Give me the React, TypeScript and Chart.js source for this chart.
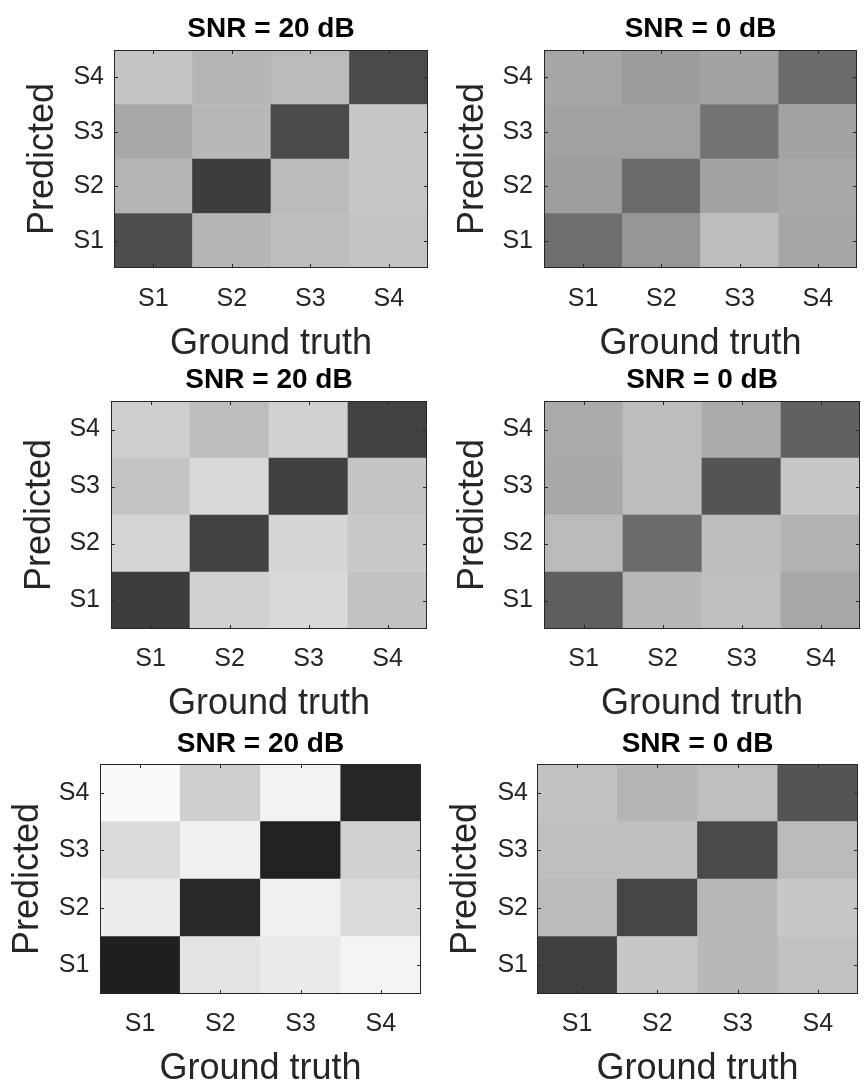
import React, { useEffect, useRef } from "react";
import { Chart, registerables } from "chart.js";

Chart.register(...registerables);

// ---------- data ----------
const groundTruth = ["S1", "S2", "S3", "S4"];
const predicted = ["S1", "S2", "S3", "S4"];
const xAxisLabel = "Ground truth";
const yAxisLabel = "Predicted";
const titles = ["SNR = 20 dB", "SNR = 0 dB", "SNR = 20 dB", "SNR = 0 dB", "SNR = 20 dB", "SNR = 0 dB"];

// each matrix: rows = predicted S1..S4, columns = ground truth S1..S4 (normalised score, 0 = white, 1 = black)
const setA_snr20 = [
  [0.70, 0.29, 0.26, 0.23],
  [0.29, 0.76, 0.27, 0.22],
  [0.34, 0.28, 0.71, 0.22],
  [0.23, 0.29, 0.27, 0.71],
];
const setA_snr0 = [
  [0.57, 0.41, 0.26, 0.35],
  [0.38, 0.58, 0.36, 0.34],
  [0.37, 0.37, 0.55, 0.36],
  [0.35, 0.39, 0.36, 0.58],
];
const setB_snr20 = [
  [0.76, 0.18, 0.15, 0.24],
  [0.17, 0.74, 0.16, 0.21],
  [0.23, 0.15, 0.75, 0.23],
  [0.19, 0.26, 0.18, 0.74],
];
const setB_snr0 = [
  [0.63, 0.28, 0.25, 0.34],
  [0.27, 0.58, 0.26, 0.30],
  [0.34, 0.26, 0.67, 0.22],
  [0.33, 0.26, 0.33, 0.62],
];
const setC_snr20 = [
  [0.88, 0.11, 0.08, 0.04],
  [0.07, 0.84, 0.06, 0.14],
  [0.14, 0.06, 0.87, 0.18],
  [0.02, 0.19, 0.05, 0.85],
];
const setC_snr0 = [
  [0.75, 0.22, 0.28, 0.24],
  [0.27, 0.73, 0.28, 0.22],
  [0.25, 0.25, 0.71, 0.27],
  [0.24, 0.29, 0.25, 0.67],
];

const matrices = [setA_snr20, setA_snr0, setB_snr20, setB_snr0, setC_snr20, setC_snr0];

// ---------- layout (page pixels) ----------
type Box = {
  cx: number; cy: number; cw: number; ch: number;
  px0: number; py0: number; px1: number; py1: number;
  titlePad: number; xTickPad: number; yTickPad: number; xTitlePad: number; yTitlePad: number;
};

const boxes: Box[] = [
  { cx: 0, cy: 0, cw: 433, ch: 360, px0: 114, py0: 50, px1: 428, py1: 268, titlePad: 14.8, xTickPad: 18.7, yTickPad: 10, xTitlePad: -1.7, yTitlePad: 25.2 },
  { cx: 433, cy: 0, cw: 433, ch: 360, px0: 544, py0: 50, px1: 857, py1: 268, titlePad: 14.8, xTickPad: 18.7, yTickPad: 11, xTitlePad: -1.7, yTitlePad: 22.2 },
  { cx: 0, cy: 360, cw: 433, ch: 360, px0: 111, py0: 401, px1: 427, py1: 629, titlePad: 5.8, xTickPad: 18, yTickPad: 11, xTitlePad: -1.7, yTitlePad: 22.0 },
  { cx: 433, cy: 360, cw: 433, ch: 360, px0: 544, py0: 401, px1: 860, py1: 629, titlePad: 5.8, xTickPad: 18, yTickPad: 11, xTitlePad: -1.7, yTitlePad: 22.0 },
  { cx: 0, cy: 720, cw: 433, ch: 368, px0: 100, py0: 764, px1: 421, py1: 994, titlePad: 10.6, xTickPad: 18, yTickPad: 10.7, xTitlePad: 1.3, yTitlePad: 10.4 },
  { cx: 433, cy: 720, cw: 433, ch: 368, px0: 537, py0: 764, px1: 858, py1: 994, titlePad: 10.6, xTickPad: 18, yTickPad: 9, xTitlePad: 1.3, yTitlePad: 15.4 },
];

const FONT = "'Liberation Sans', Arial, Helvetica, sans-serif";
const AXIS_COLOR = "#262626";
const TICK_SIZE = 25;
const LABEL_SIZE = 36;
const TITLE_SIZE = 28;

function shade(v: number): string {
  const g = Math.max(0, Math.min(255, Math.round(255 * (1 - v))));
  return `rgb(${g},${g},${g})`;
}

const framePlugin = {
  id: "matlabFrame",
  afterDraw(chart: any) {
    const { ctx, chartArea } = chart;
    const { left, top, right, bottom } = chartArea;
    const xs = chart.scales.x;
    const ys = chart.scales.y;
    const tl = 4;
    ctx.save();
    ctx.strokeStyle = AXIS_COLOR;
    ctx.lineWidth = 1;
    ctx.beginPath();
    for (let i = 0; i < xs.ticks.length; i++) {
      const px = Math.round(xs.getPixelForTick(i)) + 0.5;
      ctx.moveTo(px, bottom);
      ctx.lineTo(px, bottom - tl);
      ctx.moveTo(px, top);
      ctx.lineTo(px, top + tl);
    }
    for (let i = 0; i < ys.ticks.length; i++) {
      const py = Math.round(ys.getPixelForTick(i)) + 0.5;
      ctx.moveTo(left, py);
      ctx.lineTo(left + tl, py);
      ctx.moveTo(right, py);
      ctx.lineTo(right - tl, py);
    }
    ctx.stroke();
    ctx.strokeRect(left + 0.5, top + 0.5, right - left - 1, bottom - top - 1);
    ctx.restore();
  },
};

function Heatmap({ matrix, title, box }: { matrix: number[][]; title: string; box: Box }) {
  const ref = useRef<HTMLCanvasElement | null>(null);
  useEffect(() => {
    if (!ref.current) return;
    const yW = box.px0 - box.cx;
    const rightPad = box.cx + box.cw - box.px1;
    const topH = box.py0 - box.cy;
    const bottomH = box.cy + box.ch - box.py1;
    const datasets = predicted.map((p, r) => ({
      label: "Predicted " + p,
      data: groundTruth.map(() => 1),
      backgroundColor: matrix[r].map(shade),
      borderWidth: 0,
      barPercentage: 1,
      categoryPercentage: 1,
      xAxisID: "x",
      yAxisID: "y",
    }));
    const chart = new Chart(ref.current, {
      type: "bar",
      data: { labels: groundTruth, datasets },
      options: {
        responsive: false,
        animation: false,
        devicePixelRatio: 1,
        layout: { autoPadding: false, padding: { left: 0, top: 0, right: rightPad, bottom: 0 } },
        plugins: { legend: { display: false }, tooltip: { enabled: false }, title: { display: false } },
        scales: {
          x: {
            type: "category",
            position: "bottom",
            stacked: true,
            offset: true,
            grid: { display: false, drawTicks: false },
            border: { display: false },
            ticks: { padding: box.xTickPad, color: AXIS_COLOR, maxRotation: 0, autoSkip: false, font: { family: FONT, size: TICK_SIZE, lineHeight: 1 } },
            title: { display: true, text: xAxisLabel, color: AXIS_COLOR, font: { family: FONT, size: LABEL_SIZE, lineHeight: 1 }, padding: { top: 0, bottom: box.xTitlePad } },
            afterFit: (s: any) => { s.height = bottomH; },
          },
          xTop: {
            type: "category",
            position: "top",
            grid: { display: false, drawTicks: false },
            border: { display: false },
            ticks: { display: false },
            title: { display: true, text: title, color: "#000000", font: { family: FONT, size: TITLE_SIZE, weight: "bold", lineHeight: 1 }, padding: { top: box.titlePad, bottom: 0 } },
            afterFit: (s: any) => { s.height = topH; },
          },
          y: {
            type: "linear",
            stacked: true,
            min: 0,
            max: predicted.length,
            grid: { display: false, drawTicks: false },
            border: { display: false },
            afterBuildTicks: (s: any) => { s.ticks = predicted.map((_, i) => ({ value: i + 0.5 })); },
            ticks: {
              padding: box.yTickPad,
              color: AXIS_COLOR,
              autoSkip: false,
              font: { family: FONT, size: TICK_SIZE, lineHeight: 1 },
              callback: (v: any) => predicted[Math.round(Number(v) - 0.5)],
            },
            title: { display: true, text: yAxisLabel, color: AXIS_COLOR, font: { family: FONT, size: LABEL_SIZE, lineHeight: 1 }, padding: { top: box.yTitlePad, bottom: 0 } },
            afterFit: (s: any) => { s.width = yW; },
          },
        },
      } as any,
      plugins: [framePlugin],
    });
    return () => chart.destroy();
  }, [matrix, title, box]);
  return (
    <canvas
      ref={ref}
      width={box.cw}
      height={box.ch}
      style={{ position: "absolute", left: box.cx, top: box.cy, width: box.cw, height: box.ch, display: "block" }}
    />
  );
}

export default function App() {
  return (
    <div style={{ position: "absolute", left: 0, top: 0, width: 866, height: 1088, background: "#ffffff" }}>
      {matrices.map((m, i) => (
        <Heatmap key={i} matrix={m} title={titles[i]} box={boxes[i]} />
      ))}
    </div>
  );
}
